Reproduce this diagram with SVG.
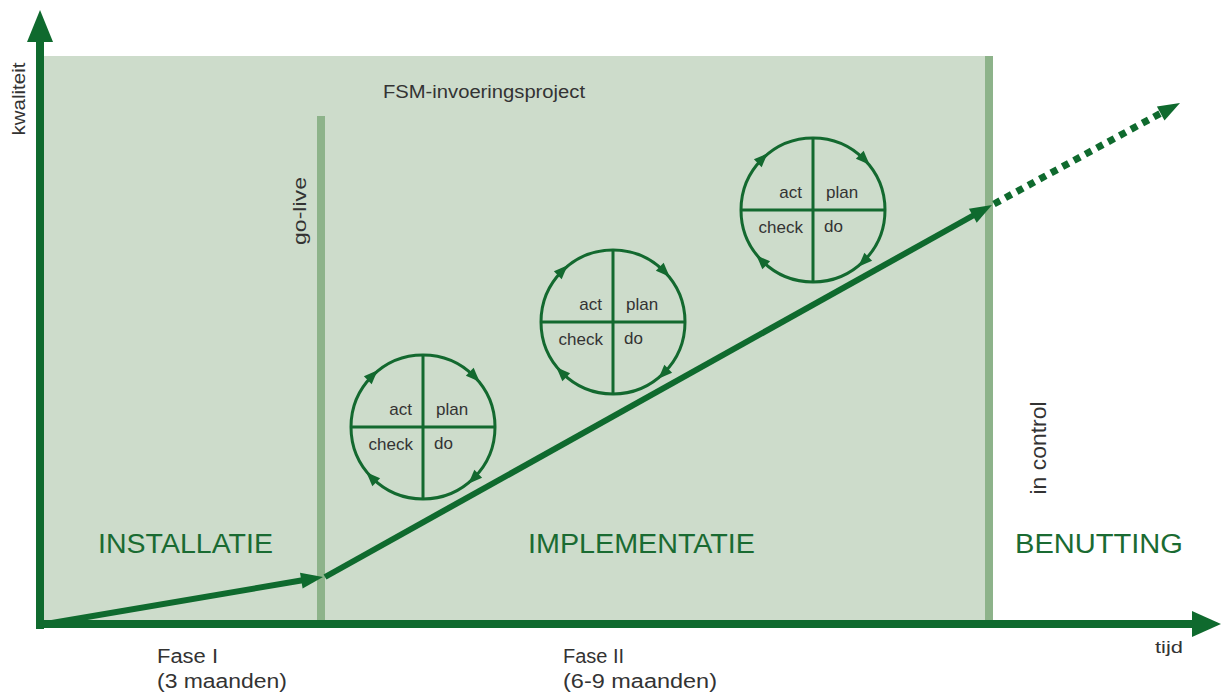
<svg xmlns="http://www.w3.org/2000/svg" xmlns:xlink="http://www.w3.org/1999/xlink" width="1221" height="695" viewBox="0 0 1221 695">
<style>
.lbl{font-family:"Liberation Sans",Arial,sans-serif;fill:#333333}
.phase{font-family:"Liberation Sans",Arial,sans-serif;fill:#1a6b32;font-size:27px}
.cl{font-family:"Liberation Sans",Arial,sans-serif;fill:#333333;font-size:17px}
.ring{fill:none;stroke:#13692f;stroke-width:3}
.bar{fill:#8db38a}
.dk{fill:#0f6a2e}
</style>
<defs>
<path id="ca" d="M8,0 L-6,-5.5 L-6,5.5 Z" fill="#13692f"/>
<g id="pdca">
<circle class="ring" cx="0" cy="0" r="72"/>
<line x1="0" y1="-72" x2="0" y2="72" stroke="#13692f" stroke-width="3"/>
<line x1="-72" y1="0" x2="72" y2="0" stroke="#13692f" stroke-width="3"/>
<use xlink:href="#ca" transform="translate(-51,-51) rotate(-45)"/>
<use xlink:href="#ca" transform="translate(51,-51) rotate(45)"/>
<use xlink:href="#ca" transform="translate(51,51) rotate(135)"/>
<use xlink:href="#ca" transform="translate(-51,51) rotate(225)"/>
<text class="cl" x="-11" y="-12" text-anchor="end">act</text>
<text class="cl" x="13" y="-12">plan</text>
<text class="cl" x="-10" y="23" text-anchor="end">check</text>
<text class="cl" x="11" y="22">do</text>
</g>
</defs>

<g id="background">
<rect x="44" y="56" width="946" height="568" fill="#cddccb"/>
</g>

<g id="golive">
<rect class="bar" x="317" y="116" width="8" height="505"/>
<text class="lbl" font-size="19" transform="translate(306,211) rotate(-90)" text-anchor="middle" textLength="68" lengthAdjust="spacingAndGlyphs">go-live</text>
</g>

<g id="incontrol">
<rect class="bar" x="985" y="56" width="8" height="565"/>
<text class="lbl" font-size="22" transform="translate(1046,448) rotate(-90)" text-anchor="middle" textLength="93" lengthAdjust="spacingAndGlyphs">in control</text>
</g>

<g id="title">
<text class="lbl" x="383" y="98" font-size="18" textLength="202" lengthAdjust="spacingAndGlyphs">FSM-invoeringsproject</text>
</g>

<g id="installatie"><text class="phase" x="98" y="553" textLength="175" lengthAdjust="spacingAndGlyphs">INSTALLATIE</text></g>
<g id="implementatie"><text class="phase" x="528" y="553" textLength="227" lengthAdjust="spacingAndGlyphs">IMPLEMENTATIE</text></g>
<g id="benutting"><text class="phase" x="1015" y="553" textLength="168" lengthAdjust="spacingAndGlyphs">BENUTTING</text></g>

<g id="pdca1"><use xlink:href="#pdca" transform="translate(423,427)"/></g>
<g id="pdca2"><use xlink:href="#pdca" transform="translate(613,322)"/></g>
<g id="pdca3"><use xlink:href="#pdca" transform="translate(813,210)"/></g>

<g id="connectors">
<line x1="40" y1="625" x2="304" y2="580" stroke="#0f6a2e" stroke-width="6"/>
<polygon class="dk" points="323,577 302.6,588.6 300,572.8"/>
<line x1="325" y1="577" x2="975" y2="214.5" stroke="#0f6a2e" stroke-width="6"/>
<polygon class="dk" points="992,205 976.7,222.7 968.9,208.7"/>
<line x1="994" y1="204" x2="1162" y2="112.5" stroke="#0f6a2e" stroke-width="7" stroke-dasharray="7 6"/>
<polygon class="dk" points="1180,103 1164.5,120.5 1156.9,106.5"/>
</g>

<g id="axes">
<rect class="dk" x="36" y="38" width="8" height="591"/>
<polygon class="dk" points="40,10 27,42 53,42"/>
<rect class="dk" x="36" y="620" width="1160" height="8"/>
<polygon class="dk" points="1221,624 1192,611 1192,637"/>
<text class="lbl" font-size="18" transform="translate(25,99) rotate(-90)" text-anchor="middle" textLength="73" lengthAdjust="spacingAndGlyphs">kwaliteit</text>
<text class="lbl" x="1155" y="653" font-size="17" textLength="28" lengthAdjust="spacingAndGlyphs">tijd</text>
</g>

<g id="fase1">
<text class="lbl" x="157" y="663" font-size="20" textLength="61" lengthAdjust="spacingAndGlyphs">Fase I</text>
<text class="lbl" x="157" y="688" font-size="20" textLength="130" lengthAdjust="spacingAndGlyphs">(3 maanden)</text>
</g>
<g id="fase2">
<text class="lbl" x="563" y="663" font-size="20">Fase II</text>
<text class="lbl" x="563" y="688" font-size="20" textLength="154" lengthAdjust="spacingAndGlyphs">(6-9 maanden)</text>
</g>
</svg>
